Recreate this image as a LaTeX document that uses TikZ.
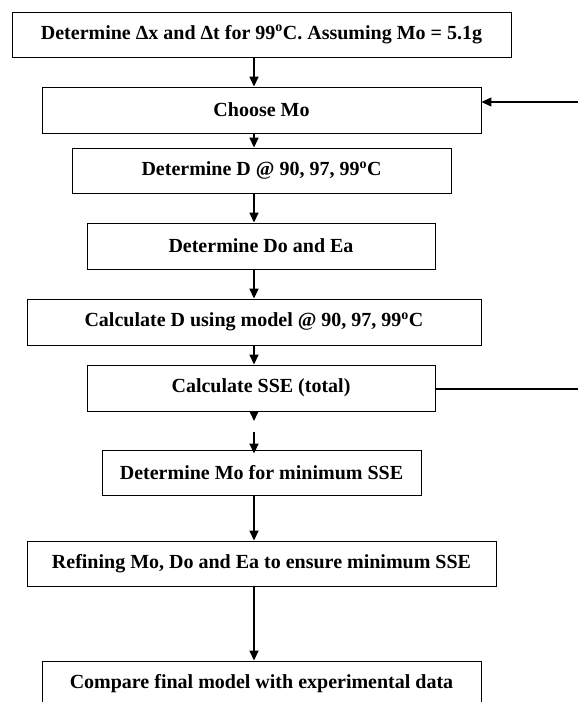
\documentclass[tikz,border=0pt]{standalone}
\usepackage{fontspec}
\setmainfont{Liberation Serif}
\usetikzlibrary{arrows.meta}
\tikzset{
  box/.style={draw=black, line width=0.9pt, rectangle, inner sep=0pt, font=\fontsize{20}{22}\selectfont\bfseries, align=center},
  arr/.style={line width=1.6pt, -{Triangle[width=9pt,length=10pt]}},
  fb/.style={line width=1.2pt},
}
\begin{document}
\begin{tikzpicture}[x=1pt,y=-1pt]
\useasboundingbox (0,0) rectangle (578,702);
\clip (0,0) rectangle (578,702);
\node[box, minimum width=499pt, minimum height=45pt] (b1) at (261.5,34.5) {Determine Δx and Δt for 99\textsuperscript{o}C. Assuming Mo = 5.1g};
\node[box, minimum width=439pt, minimum height=46pt] (b2) at (261.5,110) {Choose Mo};
\node[box, minimum width=379pt, minimum height=45pt] (b3) at (261.5,170.5) {Determine D @ 90, 97, 99\textsuperscript{o}C};
\node[box, minimum width=348pt, minimum height=46pt] (b4) at (261,246) {Determine Do and Ea};
\node[box, minimum width=454pt, minimum height=46pt] (b5) at (254,322) {Calculate D using model @ 90, 97, 99\textsuperscript{o}C};
\node[box, minimum width=348pt, minimum height=46pt] (b6) at (261,388) {Calculate SSE (total)};
\node[box, minimum width=319pt, minimum height=45pt] (b7) at (261.5,472.5) {Determine Mo for minimum SSE};
\node[box, minimum width=469pt, minimum height=45pt] (b8) at (261.5,563.5) {Refining Mo, Do and Ea to ensure minimum SSE};
\node[box, minimum width=439pt, minimum height=46pt] (b9) at (261.5,684) {Compare final model with experimental data};

\coordinate (fbin) at (578,102);
\coordinate (fbout) at (578,389);
\coordinate (g1) at (254,421);
\coordinate (g2) at (254,432);

\draw[arr] (b1.south -| g1) -- (b2.north -| g1);
\draw[arr] (b2.south -| g1) -- (b3.north -| g1);
\draw[arr] (b3.south -| g1) -- (b4.north -| g1);
\draw[arr] (b4.south -| g1) -- (b5.north -| g1);
\draw[arr] (b5.south -| g1) -- (b6.north -| g1);
\draw[arr] (b6.south -| g1) -- (g1);
\draw[arr] (g2) -- ([yshift=-4pt]b7.north -| g1);
\draw[arr] (b7.south -| g1) -- (b8.north -| g1);
\draw[arr] (b8.south -| g1) -- (b9.north -| g1);
\draw[fb, -{Triangle[width=9pt,length=10pt]}] (fbin) -- (b2.east |- fbin);
\draw[fb] (b6.east |- fbout) -- (fbout);
\end{tikzpicture}
\end{document}
